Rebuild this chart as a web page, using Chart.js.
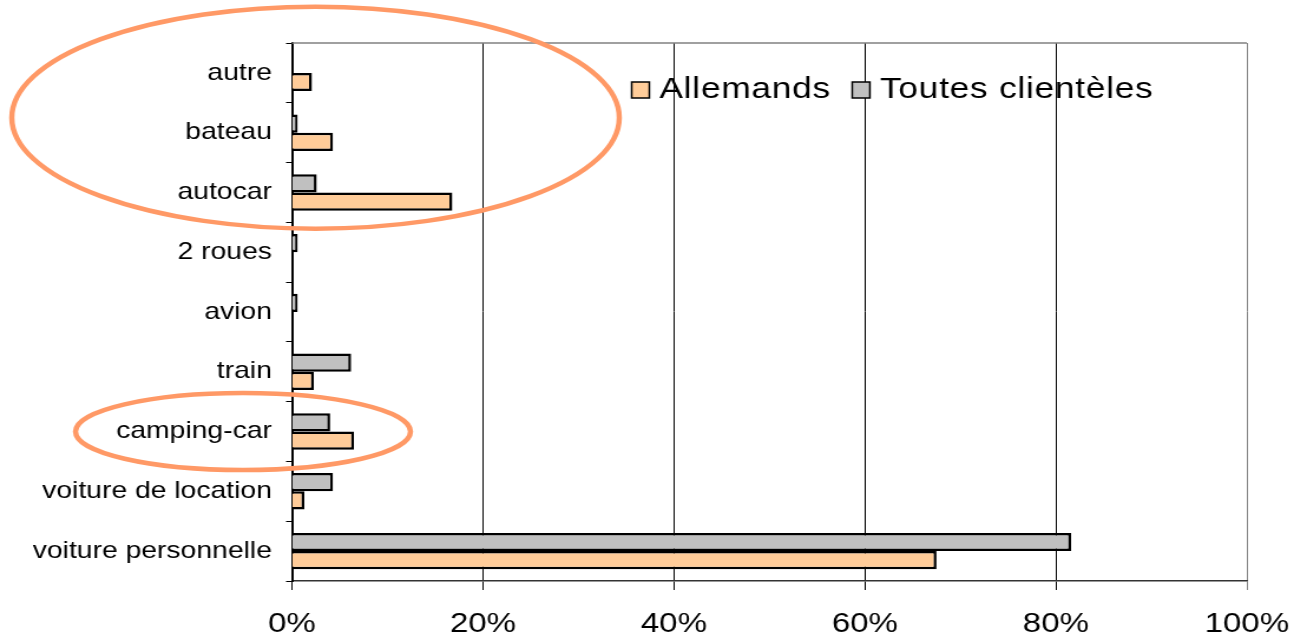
<!DOCTYPE html>
<html>
<head>
<meta charset="utf-8">
<script src="https://cdn.jsdelivr.net/npm/chart.js@4"></script>
<style>
  html, body { margin: 0; padding: 0; background: #fff; }
  #wrap { width: 1294px; height: 636px; overflow: hidden; }
</style>
</head>
<body>
<div id="wrap">
  <canvas id="chart-transport" width="1097" height="636" style="width:1294px;height:636px"></canvas>
</div>
<script>
const categories = ["autre", "bateau", "autocar", "2 roues", "avion", "train", "camping-car", "voiture de location", "voiture personnelle"];
const allemands = [2.1, 4.3, 16.8, 0, 0, 2.3, 6.5, 1.3, 67.5];
const toutesClienteles = [0, 0.6, 2.6, 0.6, 0.6, 6.2, 4.0, 4.3, 81.6];
const xTicks = [0, 20, 40, 60, 80, 100];

const FONT = "'Liberation Sans', Arial, sans-serif";

// legend drawn inside the plot, Allemands first
const innerLegend = {
    id: "innerLegend",
    afterDraw(chart) {
        const ctx = chart.ctx;
        const area = chart.chartArea;
        ctx.save();
        ctx.font = "30px " + FONT;
        ctx.letterSpacing = "0.6px";
        ctx.textBaseline = "alphabetic";
        let x = area.left + 288;
        chart.data.datasets.slice().reverse().forEach((ds) => {
            ctx.fillStyle = ds.backgroundColor;
            ctx.fillRect(x, 82, 15, 16);
            ctx.lineWidth = 1.5;
            ctx.strokeStyle = "#000";
            ctx.strokeRect(x, 82, 15, 16);
            ctx.fillStyle = "#000";
            ctx.fillText(ds.label, x + 23.5, 97.5);
            x += 23.5 + ctx.measureText(ds.label).width + 18;
        });
        ctx.restore();
    },
};

// grey top edge of the plot + orange highlight ellipses
const highlights = {
    id: "highlights",
    beforeDatasetsDraw(chart) {
        const ctx = chart.ctx;
        const area = chart.chartArea;
        ctx.save();
        ctx.strokeStyle = "#808080";
        ctx.lineWidth = 1.5;
        ctx.beginPath();
        ctx.moveTo(area.left, area.top);
        ctx.lineTo(area.right, area.top);
        ctx.stroke();
        ctx.restore();
    },
    afterDraw(chart) {
        const ctx = chart.ctx;
        const y = chart.scales.y;
        const left = chart.chartArea.left;
        ctx.save();
        ctx.strokeStyle = "#FF9966";
        ctx.lineWidth = 4.5;
        ctx.beginPath();
        ctx.ellipse(left + 20, y.getPixelForValue(1) - 15, 257.5, 111, 0, 0, Math.PI * 2);
        ctx.stroke();
        ctx.beginPath();
        ctx.ellipse(left - 41.5, y.getPixelForValue(6), 142, 38.5, 0, 0, Math.PI * 2);
        ctx.stroke();
        ctx.restore();
    },
};

const ctx = document.getElementById("chart-transport").getContext("2d");
new Chart(ctx, {
    type: "bar",
    data: {
        labels: categories,
        datasets: [
            {
                label: "Toutes clientèles",
                data: toutesClienteles,
                backgroundColor: "#C0C0C0",
                borderColor: "#000",
                borderWidth: 2.5,
                categoryPercentage: 0.61,
                barPercentage: 1.0,
            },
            {
                label: "Allemands",
                data: allemands,
                backgroundColor: "#FFCC99",
                borderColor: "#000",
                borderWidth: 2.5,
                categoryPercentage: 0.61,
                barPercentage: 1.0,
            },
        ],
    },
    options: {
        indexAxis: "y",
        responsive: false,
        devicePixelRatio: 1,
        animation: false,
        layout: { padding: { top: 43, right: 40, left: 0, bottom: 0 } },
        scales: {
            x: {
                min: 0,
                max: 100,
                afterBuildTicks: (scale) => {
                    scale.ticks = xTicks.map((v) => ({ value: v }));
                },
                afterFit: (scale) => {
                    scale.height = 55;
                    // the last label may hang into the right margin
                    scale.paddingLeft = 0;
                    scale.paddingRight = 0;
                },
                border: { color: "#333", width: 1.5 },
                grid: {
                    color: (c) => (c.tick && c.tick.value === 100 ? "#808080" : "#000"),
                    lineWidth: 1,
                    tickLength: 9,
                },
                ticks: {
                    color: "#000",
                    font: { family: FONT, size: 28 },
                    padding: 17,
                    maxRotation: 0,
                    callback: (v) => v + "%",
                },
            },
            y: {
                afterFit: (scale) => {
                    scale.width = 247.5;
                },
                border: { color: "#000", width: 2 },
                grid: {
                    drawOnChartArea: false,
                    color: "#000",
                    tickLength: 5,
                    offset: true,
                },
                ticks: {
                    color: "#000",
                    font: { family: FONT, size: 24 },
                    padding: 12,
                },
            },
        },
        plugins: {
            legend: { display: false },
            tooltip: { enabled: false },
        },
    },
    plugins: [innerLegend, highlights],
});
</script>
</body>
</html>
